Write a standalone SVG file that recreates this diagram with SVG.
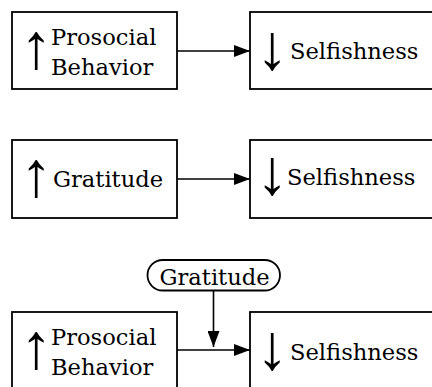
<svg xmlns="http://www.w3.org/2000/svg" width="432" height="387" viewBox="0 0 432 387">
<style>
.box{fill:#fff;stroke:#000;stroke-width:1.8}
.t{font-family:"DejaVu Serif","Liberation Serif",serif;font-size:22.6px;fill:#000}
.ar{font-family:"Liberation Serif",serif;font-size:64px;font-weight:bold;fill:#000;text-anchor:middle}
.c{stroke:#000;stroke-width:1.6;fill:none;marker-end:url(#h)}
</style>
<defs>
<marker id="h" markerWidth="16" markerHeight="12" refX="16" refY="6" orient="auto" markerUnits="userSpaceOnUse">
<path d="M0,0 L16,6 L0,12 Z" fill="#000"/>
</marker>
</defs>
<rect width="432" height="387" fill="#fff"/>
<g id="connectors">
<line class="c" x1="177" y1="51" x2="250" y2="51"/>
<line class="c" x1="177" y1="179" x2="250" y2="179"/>
<line class="c" x1="177" y1="350" x2="250" y2="350"/>
<line class="c" x1="213.5" y1="291" x2="213.5" y2="347"/>
</g>
<g id="n1">
<rect class="box" x="12" y="12" width="165" height="77"/>
<text class="ar" x="36" y="68">↑</text>
<text class="t" x="51" y="45">Prosocial</text>
<text class="t" x="51" y="75">Behavior</text>
</g>
<g id="n2">
<rect class="box" x="250" y="12" width="200" height="77"/>
<text class="ar" x="272" y="69">↓</text>
<text class="t" x="290" y="59">Selfishness</text>
</g>
<g id="n3">
<rect class="box" x="12" y="140" width="165" height="78"/>
<text class="ar" x="36" y="196">↑</text>
<text class="t" x="53" y="186.5">Gratitude</text>
</g>
<g id="n4">
<rect class="box" x="250" y="140" width="200" height="78"/>
<text class="ar" x="272" y="194">↓</text>
<text class="t" x="287" y="185">Selfishness</text>
</g>
<g id="n5">
<rect class="box" x="147.5" y="260" width="132.5" height="30.5" rx="15.25"/>
<text class="t" x="159.5" y="285">Gratitude</text>
</g>
<g id="n6">
<rect class="box" x="12" y="312" width="165" height="90"/>
<text class="ar" x="36" y="368">↑</text>
<text class="t" x="51" y="345">Prosocial</text>
<text class="t" x="51" y="375">Behavior</text>
</g>
<g id="n7">
<rect class="box" x="250" y="312" width="200" height="90"/>
<text class="ar" x="272" y="369">↓</text>
<text class="t" x="290" y="360">Selfishness</text>
</g>
</svg>
